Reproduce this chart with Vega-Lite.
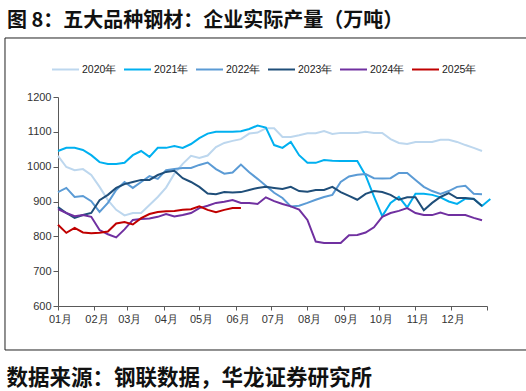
{
  "$schema": "https://vega.github.io/schema/vega-lite/v6.json",
  "width": 429,
  "height": 209,
  "autosize": {"type": "none"},
  "padding": {"left": 58, "top": 97, "right": 39, "bottom": 85},
  "background": "white",
  "config": {"view": {"stroke": null}},
  "title": {
    "text": "图 8：五大品种钢材：企业实际产量（万吨）",
    "anchor": "start", "frame": "group", "dx": -51, "offset": 0, "dy": 9.5,
    "baseline": "alphabetic",
    "font": "Noto Sans CJK SC", "fontSize": 20, "fontWeight": "bold", "color": "#111"
  },
  "datasets": {
    "d": [
      {"s":"2020年","w":1,"v":1031},{"s":"2020年","w":2,"v":999},{"s":"2020年","w":3,"v":990},{"s":"2020年","w":4,"v":993},{"s":"2020年","w":5,"v":976},{"s":"2020年","w":6,"v":942},{"s":"2020年","w":7,"v":904},{"s":"2020年","w":8,"v":876},{"s":"2020年","w":9,"v":860},{"s":"2020年","w":10,"v":867},{"s":"2020年","w":11,"v":867},{"s":"2020年","w":12,"v":890},{"s":"2020年","w":13,"v":913},{"s":"2020年","w":14,"v":940},{"s":"2020年","w":15,"v":980},{"s":"2020年","w":16,"v":1008},{"s":"2020年","w":17,"v":1031},{"s":"2020年","w":18,"v":1025},{"s":"2020年","w":19,"v":1032},{"s":"2020年","w":20,"v":1056},{"s":"2020年","w":21,"v":1068},{"s":"2020年","w":22,"v":1074},{"s":"2020年","w":23,"v":1079},{"s":"2020年","w":24,"v":1095},{"s":"2020年","w":25,"v":1098},{"s":"2020年","w":26,"v":1110},{"s":"2020年","w":27,"v":1110},{"s":"2020年","w":28,"v":1085},{"s":"2020年","w":29,"v":1085},{"s":"2020年","w":30,"v":1090},{"s":"2020年","w":31,"v":1096},{"s":"2020年","w":32,"v":1096},{"s":"2020年","w":33,"v":1102},{"s":"2020年","w":34,"v":1094},{"s":"2020年","w":35,"v":1097},{"s":"2020年","w":36,"v":1097},{"s":"2020年","w":37,"v":1097},{"s":"2020年","w":38,"v":1100},{"s":"2020年","w":39,"v":1097},{"s":"2020年","w":40,"v":1097},{"s":"2020年","w":41,"v":1079},{"s":"2020年","w":42,"v":1068},{"s":"2020年","w":43,"v":1065},{"s":"2020年","w":44,"v":1071},{"s":"2020年","w":45,"v":1071},{"s":"2020年","w":46,"v":1071},{"s":"2020年","w":47,"v":1077},{"s":"2020年","w":48,"v":1077},{"s":"2020年","w":49,"v":1071},{"s":"2020年","w":50,"v":1062},{"s":"2020年","w":51,"v":1054},{"s":"2020年","w":52,"v":1045},
      {"s":"2021年","w":1,"v":1045},{"s":"2021年","w":2,"v":1054},{"s":"2021年","w":3,"v":1054},{"s":"2021年","w":4,"v":1048},{"s":"2021年","w":5,"v":1033},{"s":"2021年","w":6,"v":1013},{"s":"2021年","w":7,"v":1008},{"s":"2021年","w":8,"v":1008},{"s":"2021年","w":9,"v":1011},{"s":"2021年","w":10,"v":1033},{"s":"2021年","w":11,"v":1045},{"s":"2021年","w":12,"v":1028},{"s":"2021年","w":13,"v":1054},{"s":"2021年","w":14,"v":1054},{"s":"2021年","w":15,"v":1059},{"s":"2021年","w":16,"v":1054},{"s":"2021年","w":17,"v":1065},{"s":"2021年","w":18,"v":1082},{"s":"2021年","w":19,"v":1095},{"s":"2021年","w":20,"v":1100},{"s":"2021年","w":21,"v":1100},{"s":"2021年","w":22,"v":1100},{"s":"2021年","w":23,"v":1102},{"s":"2021年","w":24,"v":1108},{"s":"2021年","w":25,"v":1118},{"s":"2021年","w":26,"v":1112},{"s":"2021年","w":27,"v":1062},{"s":"2021年","w":28,"v":1054},{"s":"2021年","w":29,"v":1071},{"s":"2021年","w":30,"v":1033},{"s":"2021年","w":31,"v":1011},{"s":"2021年","w":32,"v":1011},{"s":"2021年","w":33,"v":1019},{"s":"2021年","w":34,"v":1017},{"s":"2021年","w":35,"v":1016},{"s":"2021年","w":36,"v":1016},{"s":"2021年","w":37,"v":1016},{"s":"2021年","w":38,"v":975},{"s":"2021年","w":39,"v":915},{"s":"2021年","w":40,"v":858},{"s":"2021年","w":41,"v":896},{"s":"2021年","w":42,"v":913},{"s":"2021年","w":43,"v":883},{"s":"2021年","w":44,"v":922},{"s":"2021年","w":45,"v":922},{"s":"2021年","w":46,"v":919},{"s":"2021年","w":47,"v":912},{"s":"2021年","w":48,"v":900},{"s":"2021年","w":49,"v":893},{"s":"2021年","w":50,"v":908},{"s":"2021年","w":51,"v":908},{"s":"2021年","w":52,"v":887},{"s":"2021年","w":53,"v":907},
      {"s":"2022年","w":1,"v":927},{"s":"2022年","w":2,"v":939},{"s":"2022年","w":3,"v":913},{"s":"2022年","w":4,"v":916},{"s":"2022年","w":5,"v":901},{"s":"2022年","w":6,"v":870},{"s":"2022年","w":7,"v":896},{"s":"2022年","w":8,"v":933},{"s":"2022年","w":9,"v":956},{"s":"2022年","w":10,"v":939},{"s":"2022年","w":11,"v":956},{"s":"2022年","w":12,"v":973},{"s":"2022年","w":13,"v":965},{"s":"2022年","w":14,"v":990},{"s":"2022年","w":15,"v":993},{"s":"2022年","w":16,"v":996},{"s":"2022年","w":17,"v":996},{"s":"2022年","w":18,"v":1005},{"s":"2022年","w":19,"v":1012},{"s":"2022年","w":20,"v":993},{"s":"2022年","w":21,"v":980},{"s":"2022年","w":22,"v":983},{"s":"2022年","w":23,"v":1006},{"s":"2022年","w":24,"v":984},{"s":"2022年","w":25,"v":965},{"s":"2022年","w":26,"v":945},{"s":"2022年","w":27,"v":925},{"s":"2022年","w":28,"v":910},{"s":"2022年","w":29,"v":886},{"s":"2022年","w":30,"v":888},{"s":"2022年","w":31,"v":896},{"s":"2022年","w":32,"v":905},{"s":"2022年","w":33,"v":913},{"s":"2022年","w":34,"v":919},{"s":"2022年","w":35,"v":956},{"s":"2022年","w":36,"v":972},{"s":"2022年","w":37,"v":977},{"s":"2022年","w":38,"v":979},{"s":"2022年","w":39,"v":967},{"s":"2022年","w":40,"v":966},{"s":"2022年","w":41,"v":967},{"s":"2022年","w":42,"v":982},{"s":"2022年","w":43,"v":982},{"s":"2022年","w":44,"v":962},{"s":"2022年","w":45,"v":942},{"s":"2022年","w":46,"v":930},{"s":"2022年","w":47,"v":922},{"s":"2022年","w":48,"v":930},{"s":"2022年","w":49,"v":942},{"s":"2022年","w":50,"v":945},{"s":"2022年","w":51,"v":922},{"s":"2022年","w":52,"v":921},
      {"s":"2023年","w":1,"v":884},{"s":"2023年","w":2,"v":867},{"s":"2023年","w":3,"v":853},{"s":"2023年","w":4,"v":861},{"s":"2023年","w":5,"v":867},{"s":"2023年","w":6,"v":904},{"s":"2023年","w":7,"v":919},{"s":"2023年","w":8,"v":939},{"s":"2023年","w":9,"v":950},{"s":"2023年","w":10,"v":956},{"s":"2023年","w":11,"v":962},{"s":"2023年","w":12,"v":962},{"s":"2023年","w":13,"v":976},{"s":"2023年","w":14,"v":985},{"s":"2023年","w":15,"v":988},{"s":"2023年","w":16,"v":967},{"s":"2023年","w":17,"v":956},{"s":"2023年","w":18,"v":942},{"s":"2023年","w":19,"v":923},{"s":"2023年","w":20,"v":921},{"s":"2023年","w":21,"v":927},{"s":"2023年","w":22,"v":926},{"s":"2023年","w":23,"v":927},{"s":"2023年","w":24,"v":933},{"s":"2023年","w":25,"v":939},{"s":"2023年","w":26,"v":942},{"s":"2023年","w":27,"v":939},{"s":"2023年","w":28,"v":936},{"s":"2023年","w":29,"v":942},{"s":"2023年","w":30,"v":930},{"s":"2023年","w":31,"v":928},{"s":"2023年","w":32,"v":933},{"s":"2023年","w":33,"v":933},{"s":"2023年","w":34,"v":942},{"s":"2023年","w":35,"v":927},{"s":"2023年","w":36,"v":916},{"s":"2023年","w":37,"v":905},{"s":"2023年","w":38,"v":922},{"s":"2023年","w":39,"v":930},{"s":"2023年","w":40,"v":927},{"s":"2023年","w":41,"v":919},{"s":"2023年","w":42,"v":905},{"s":"2023年","w":43,"v":912},{"s":"2023年","w":44,"v":912},{"s":"2023年","w":45,"v":875},{"s":"2023年","w":46,"v":896},{"s":"2023年","w":47,"v":913},{"s":"2023年","w":48,"v":924},{"s":"2023年","w":49,"v":910},{"s":"2023年","w":50,"v":910},{"s":"2023年","w":51,"v":907},{"s":"2023年","w":52,"v":887},
      {"s":"2024年","w":1,"v":878},{"s":"2024年","w":2,"v":867},{"s":"2024年","w":3,"v":858},{"s":"2024年","w":4,"v":861},{"s":"2024年","w":5,"v":856},{"s":"2024年","w":6,"v":818},{"s":"2024年","w":7,"v":806},{"s":"2024年","w":8,"v":797},{"s":"2024年","w":9,"v":820},{"s":"2024年","w":10,"v":847},{"s":"2024年","w":11,"v":850},{"s":"2024年","w":12,"v":851},{"s":"2024年","w":13,"v":856},{"s":"2024年","w":14,"v":864},{"s":"2024年","w":15,"v":857},{"s":"2024年","w":16,"v":861},{"s":"2024年","w":17,"v":867},{"s":"2024年","w":18,"v":881},{"s":"2024年","w":19,"v":888},{"s":"2024年","w":20,"v":896},{"s":"2024年","w":21,"v":899},{"s":"2024年","w":22,"v":904},{"s":"2024年","w":23,"v":896},{"s":"2024年","w":24,"v":896},{"s":"2024年","w":25,"v":893},{"s":"2024年","w":26,"v":912},{"s":"2024年","w":27,"v":901},{"s":"2024年","w":28,"v":893},{"s":"2024年","w":29,"v":886},{"s":"2024年","w":30,"v":877},{"s":"2024年","w":31,"v":847},{"s":"2024年","w":32,"v":785},{"s":"2024年","w":33,"v":781},{"s":"2024年","w":34,"v":781},{"s":"2024年","w":35,"v":781},{"s":"2024年","w":36,"v":803},{"s":"2024年","w":37,"v":804},{"s":"2024年","w":38,"v":811},{"s":"2024年","w":39,"v":826},{"s":"2024年","w":40,"v":856},{"s":"2024年","w":41,"v":867},{"s":"2024年","w":42,"v":873},{"s":"2024年","w":43,"v":881},{"s":"2024年","w":44,"v":867},{"s":"2024年","w":45,"v":861},{"s":"2024年","w":46,"v":861},{"s":"2024年","w":47,"v":868},{"s":"2024年","w":48,"v":861},{"s":"2024年","w":49,"v":861},{"s":"2024年","w":50,"v":861},{"s":"2024年","w":51,"v":853},{"s":"2024年","w":52,"v":846},
      {"s":"2025年","w":1,"v":833},{"s":"2025年","w":2,"v":810},{"s":"2025年","w":3,"v":824},{"s":"2025年","w":4,"v":811},{"s":"2025年","w":5,"v":809},{"s":"2025年","w":6,"v":810},{"s":"2025年","w":7,"v":814},{"s":"2025年","w":8,"v":837},{"s":"2025年","w":9,"v":841},{"s":"2025年","w":10,"v":834},{"s":"2025年","w":11,"v":852},{"s":"2025年","w":12,"v":864},{"s":"2025年","w":13,"v":870},{"s":"2025年","w":14,"v":872},{"s":"2025年","w":15,"v":873},{"s":"2025年","w":16,"v":876},{"s":"2025年","w":17,"v":878},{"s":"2025年","w":18,"v":886},{"s":"2025年","w":19,"v":876},{"s":"2025年","w":20,"v":869},{"s":"2025年","w":21,"v":876},{"s":"2025年","w":22,"v":881},{"s":"2025年","w":23,"v":881}
    ]
  },
  "layer": [
    {
      "data": {"name": "d"},
      "mark": {"type": "line", "strokeWidth": 2, "interpolate": "linear"},
      "encoding": {
        "x": {
          "field": "w", "type": "quantitative",
          "scale": {"domain": [1, 52.6], "nice": false, "zero": false},
          "axis": {
            "values": [1, 5.38, 9.34, 13.72, 17.96, 22.35, 26.59, 30.97, 35.35, 39.59, 43.98, 48.22, 52.6],
            "tickCount": 30,
            "labelExpr": "round((datum.value-1)/51.6*12) >= 12 ? '' : ((round((datum.value-1)/51.6*12)+1) < 10 ? '0' : '') + (round((datum.value-1)/51.6*12)+1) + '月'",
            "grid": false, "domainColor": "#595959", "tickColor": "#595959", "tickSize": 4,
            "labelFont": "Liberation Sans", "labelFontSize": 11, "labelColor": "#333", "labelPadding": 3, "labelOffset": 2,
            "labelFlush": false, "labelOverlap": false,
            "title": "数据来源：钢联数据，华龙证券研究所",
            "titleX": -52, "titleY": 78, "titleAlign": "left", "titleBaseline": "alphabetic", "titleAnchor": "start",
            "titleFont": "Noto Sans CJK SC", "titleFontSize": 21.5, "titleFontWeight": "bold", "titleColor": "#111"
          }
        },
        "y": {
          "field": "v", "type": "quantitative",
          "scale": {"domain": [600, 1200], "nice": false, "zero": false},
          "axis": {
            "values": [600, 700, 800, 900, 1000, 1100, 1200],
            "tickCount": 20, "format": "d",
            "grid": false, "domainColor": "#595959", "tickColor": "#595959", "tickSize": 5,
            "labelFont": "Liberation Sans", "labelFontSize": 11, "labelColor": "#333", "labelPadding": 2,
            "labelOverlap": false, "labelFlush": false,
            "title": null
          }
        },
        "color": {
          "field": "s", "type": "nominal",
          "scale": {
            "domain": ["2020年", "2021年", "2022年", "2023年", "2024年", "2025年"],
            "range": ["#bdd7ee", "#00b0f0", "#5b9bd5", "#1f4e79", "#7030a0", "#c00000"]
          },
          "legend": {
            "title": null, "orient": "none", "direction": "horizontal", "columns": 6,
            "legendX": -7, "legendY": -42,
            "symbolType": "stroke", "symbolSize": 729, "symbolStrokeWidth": 2,
            "labelFont": "Liberation Sans", "labelFontSize": 10.5, "labelColor": "#222",
            "labelOffset": 2, "columnPadding": 3
          }
        }
      }
    },
    {
      "data": {"values": [{}]},
      "mark": {"type": "rule", "color": "#222", "strokeWidth": 1},
      "encoding": {
        "x": {"datum": -5.375, "type": "quantitative"},
        "y": {"datum": 473.7, "type": "quantitative"},
        "y2": {"datum": 1369.4}
      }
    },
    {
      "data": {"values": [{}]},
      "mark": {"type": "rule", "color": "#222", "strokeWidth": 1},
      "encoding": {
        "x": {"datum": -5.375, "type": "quantitative"},
        "x2": {"datum": 57.5},
        "y": {"datum": 1369.4, "type": "quantitative"}
      }
    },
    {
      "data": {"values": [{}]},
      "mark": {"type": "rule", "color": "#222", "strokeWidth": 1},
      "encoding": {
        "x": {"datum": -5.375, "type": "quantitative"},
        "x2": {"datum": 57.5},
        "y": {"datum": 473.7, "type": "quantitative"}
      }
    }
  ]
}
